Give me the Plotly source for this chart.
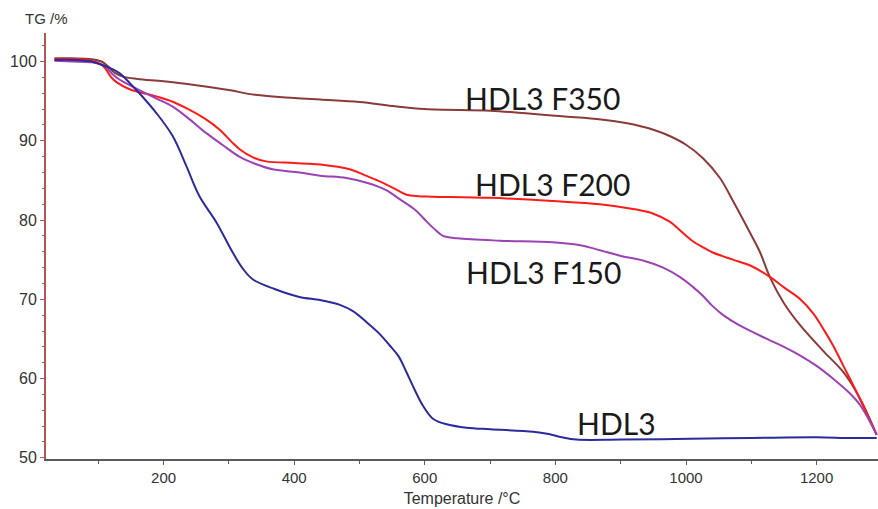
import plotly.graph_objects as go

# ---- data ----
t_f350 = [33, 60, 90, 105, 115, 125, 138, 160, 200, 250, 300, 340, 400, 440, 500, 550, 600, 700, 750,
          810, 870, 910, 950, 975, 1000, 1026, 1052, 1072, 1098, 1113, 1129, 1150, 1175, 1210, 1241,
          1265, 1292]
v_f350 = [100.4, 100.4, 100.3, 100.0, 99.4, 98.6, 98.1, 97.8, 97.5, 97.0, 96.4, 95.8, 95.4, 95.2, 94.9,
          94.4, 94.0, 93.8, 93.5, 93.1, 92.7, 92.2, 91.4, 90.6, 89.5, 87.8, 85.3, 82.4, 78.4, 76.0, 72.7,
          69.5, 66.7, 63.5, 60.8, 57.7, 52.9]

t_f200 = [33, 60, 90, 105, 112, 120, 128, 148, 189, 215, 240, 265, 286, 305, 317, 337, 357, 400, 440,
          485, 510, 536, 555, 572, 590, 612, 700, 796, 868, 919, 950, 975, 995, 1011, 1025, 1041, 1072,
          1100, 1129, 1150, 1175, 1195, 1210, 1225, 1241, 1257, 1271, 1292]
v_f200 = [100.3, 100.3, 100.1, 99.6, 99.0, 98.0, 97.4, 96.5, 95.6, 94.9, 93.9, 92.7, 91.4, 89.8, 88.9,
          87.9, 87.4, 87.2, 87.0, 86.4, 85.6, 84.7, 83.9, 83.2, 83.0, 82.95, 82.8, 82.4, 82.0, 81.4, 80.8,
          79.8, 78.4, 77.3, 76.6, 75.9, 75.0, 74.2, 72.8, 71.5, 70.0, 68.2, 66.3, 64.2, 61.6, 59.0, 56.6,
          52.9]

t_f150 = [33, 60, 90, 105, 112, 122, 133, 163, 190, 214, 240, 265, 290, 316, 340, 367, 408, 440, 480,
          511, 540, 562, 585, 603, 617, 628, 650, 715, 796, 840, 868, 899, 934, 965, 991, 1010, 1025,
          1040, 1057, 1080, 1124, 1150, 1175, 1200, 1225, 1250, 1267, 1292]
v_f150 = [100.1, 100.0, 99.9, 99.6, 99.3, 98.4, 97.7, 96.4, 95.3, 94.3, 92.7, 91.0, 89.5, 88.0, 87.1,
          86.4, 86.0, 85.6, 85.3, 84.7, 83.8, 82.6, 81.3, 79.8, 78.7, 78.0, 77.7, 77.4, 77.2, 76.8, 76.2,
          75.5, 74.9, 74.0, 72.8, 71.6, 70.5, 69.2, 68.0, 66.8, 65.0, 64.0, 62.9, 61.6, 60.0, 58.2, 56.6,
          52.9]

t_hdl3 = [33, 60, 90, 105, 120, 133, 148, 163, 189, 214, 235, 255, 281, 306, 322, 337, 370, 408, 440,
          470, 490, 511, 530, 546, 560, 572, 585, 597, 613, 635, 664, 700, 766, 790, 810, 832, 900, 1006,
          1100, 1200, 1250, 1292]
v_hdl3 = [100.2, 100.2, 100.0, 99.6, 99.1, 98.5, 97.3, 96.0, 93.5, 90.6, 86.8, 83.0, 79.7, 75.9, 73.8,
          72.5, 71.3, 70.3, 69.9, 69.3, 68.5, 67.1, 65.7, 64.2, 62.8, 60.8, 58.5, 56.6, 54.9, 54.2, 53.8,
          53.6, 53.3, 53.0, 52.6, 52.3, 52.3, 52.4, 52.5, 52.6, 52.5, 52.5]

x_ticks = [200, 400, 600, 800, 1000, 1200]
y_ticks = [50, 60, 70, 80, 90, 100]

series = [
    ("HDL3 F350", t_f350, v_f350, "#8b3a3a"),
    ("HDL3 F200", t_f200, v_f200, "#ff1a1a"),
    ("HDL3 F150", t_f150, v_f150, "#9b42b5"),
    ("HDL3", t_hdl3, v_hdl3, "#2b2b9c"),
]

fig = go.Figure()
for name, t, v, col in series:
    fig.add_trace(go.Scatter(x=t, y=v, mode="lines", name=name,
                             line=dict(color=col, width=2, shape="spline", smoothing=1.0)))

labels = [("HDL3 F350", 781, 95.4), ("HDL3 F200", 796, 84.5),
          ("HDL3 F150", 782, 73.5), ("HDL3", 894, 54.4)]
for txt, x, y in labels:
    fig.add_annotation(x=x, y=y, text=txt, showarrow=False,
                       font=dict(family="Lato, Open Sans, sans-serif", size=30, color="#1a1a1a"))

fig.add_annotation(xref="paper", yref="paper", x=0, y=1, xanchor="center", yanchor="bottom",
                   yshift=4, text="TG /%", showarrow=False,
                   font=dict(family="Liberation Sans, Arial", size=15, color="#333333"))

fig.update_layout(
    width=878, height=509,
    margin=dict(l=46, r=0, t=33, b=50),
    paper_bgcolor="white", plot_bgcolor="white",
    showlegend=False,
    font=dict(family="Liberation Sans, Arial", size=15, color="#333333"),
)
fig.update_xaxes(
    range=[20, 1294], tickvals=x_ticks, ticktext=[str(v) for v in x_ticks],
    showgrid=False, zeroline=False,
    showline=True, linecolor="#5a5a5a", linewidth=2,
    ticks="outside", ticklen=4, tickcolor="#5a5a5a", tickwidth=1,
    minor=dict(ticks="outside", ticklen=3, tickcolor="#5a5a5a", tickvals=[100, 300, 500, 700, 900, 1100]),
    title=dict(text="Temperature /°C", font=dict(size=16, color="#333333"), standoff=8),
    tickfont=dict(size=15, color="#333333"),
)
fig.update_yaxes(
    range=[49.85, 103.6], tickvals=y_ticks, ticktext=[str(v) for v in y_ticks],
    showgrid=False, zeroline=False,
    showline=True, linecolor="#b35555", linewidth=2,
    ticks="outside", ticklen=4, tickcolor="#b35555", tickwidth=1,
    minor=dict(ticks="outside", ticklen=2, tickcolor="#b35555", dtick=2, tick0=50),
    tickfont=dict(size=16, color="#333333"),
)

fig.write_html("out.html", config={"displayModeBar": False},
               post_script="document.body.style.margin='0px';document.body.style.overflow='hidden';")
